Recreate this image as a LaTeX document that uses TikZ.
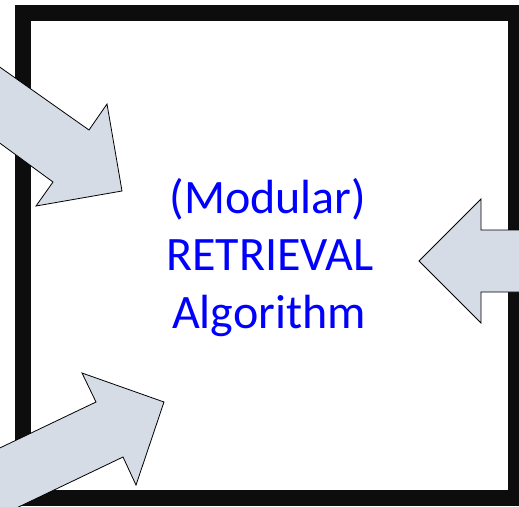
\documentclass[tikz,border=0pt]{standalone}
\usepackage{fontspec}
\setmainfont{Carlito}
\definecolor{framec}{HTML}{0D0D0D}
\definecolor{arrowfill}{HTML}{D6DCE5}
\definecolor{textblue}{HTML}{0000FF}
\begin{document}
\begin{tikzpicture}[x=1pt,y=-1pt,
  framebox/.style={draw=framec,line width=16pt},
  blockarrow/.style={draw=black,fill=arrowfill,line width=0.8pt,line join=miter},
  label/.style={text=textblue,font=\fontsize{48}{57}\selectfont,anchor=base,inner sep=0pt}]
\useasboundingbox (0,0) rectangle (519,506);
\begin{scope}
\clip (0,0) rectangle (519,506);
\draw[framebox] (23,13) rectangle (516,498);
% top-left arrow
\draw[blockarrow] (-40,39) -- (89,130) -- (107,104) -- (122,191) -- (36,206) -- (53,182) -- (-40,114) -- cycle;
% right arrow
\draw[blockarrow] (419,261) -- (481,199) -- (481,230) -- (560,230) -- (560,292) -- (481,292) -- (481,323) -- cycle;
% bottom-left arrow
\draw[blockarrow] (-40,467) -- (96,402) -- (82,373) -- (164,402) -- (136,485) -- (123,457) -- (-40,535) -- cycle;
\end{scope}
\node[label] (t1) at (268,213) {(Modular)};
\node[label] (t2) at (270,270) {RETRIEVAL};
\node[label] (t3) at (269,328) {Algorithm};
\end{tikzpicture}
\end{document}
